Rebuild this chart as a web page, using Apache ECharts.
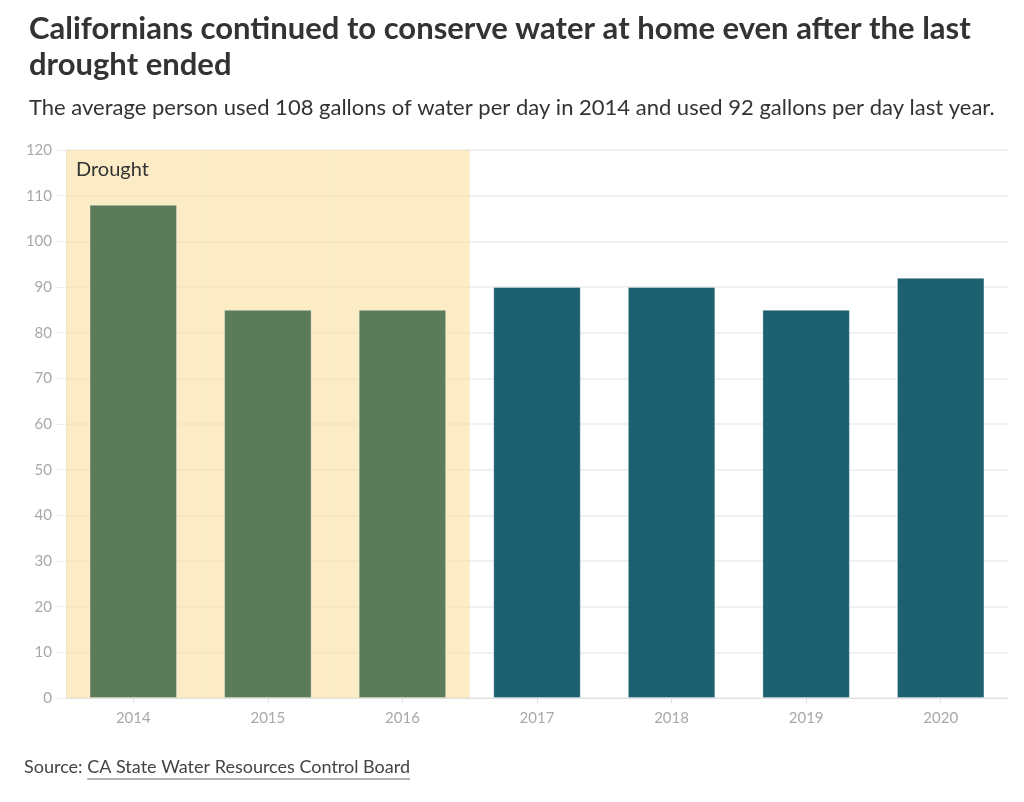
<!DOCTYPE html>
<html><head><meta charset="utf-8">
<script src="https://cdn.jsdelivr.net/npm/echarts@6/dist/echarts.min.js"></script>
<style>html,body{margin:0;padding:0;background:#fff}#c{width:1024px;height:802px}</style>
</head><body><div id="c"></div>
<script>
var years = ['2014','2015','2016','2017','2018','2019','2020'];
var gallons = [108, 85, 85, 90, 90, 85, 92];
var droughtYears = ['2014','2015','2016'];
var yTicks = {min: 0, max: 120, interval: 10};
var titleText = 'Californians continued to conserve water at home even after the last\ndrought ended';
var subtitleText = 'The average person used 108 gallons of water per day in 2014 and used 92 gallons per day last year.';
var sourcePrefix = 'Source: ';
var sourceLink = 'CA State Water Resources Control Board';

var FONT = 'Lato, "Noto Sans", sans-serif';
var chart = echarts.init(document.getElementById('c'));

var barData = gallons.map(function(v, i){
  var d = droughtYears.indexOf(years[i]) >= 0;
  return {value: v, itemStyle: {color: d ? '#5b7b5a' : '#1d6170'}};
});
var bgData = years.map(function(y, i){
  return droughtYears.indexOf(y) >= 0 ? yTicks.max : null;
});

var ctx = document.createElement('canvas').getContext('2d');
ctx.font = '18px ' + FONT;
var prefW = ctx.measureText(sourcePrefix).width;
var linkW = ctx.measureText(sourceLink).width;

chart.setOption({
  animation: false,
  textStyle: {fontFamily: FONT},
  title: [{
    text: titleText, left: 24, top: 6,
    textStyle: {fontSize: 31, fontWeight: 'bold', color: '#333', lineHeight: 36, fontFamily: FONT}
  }, {
    text: subtitleText, left: 24, top: 92,
    textStyle: {fontSize: 22, fontWeight: 'normal', color: '#333', fontFamily: FONT}
  }],
  grid: {left: 66, right: 16, top: 150, bottom: 104, containLabel: false},
  xAxis: [{
    type: 'category', data: years,
    axisLine: {show: true, lineStyle: {color: '#e0e0e0'}},
    axisTick: {show: true, alignWithLabel: true, length: 5, lineStyle: {color: '#e0e0e0'}},
    axisLabel: {color: '#a8a8a8', fontSize: 15, margin: 13}
  }, {
    type: 'category', data: years, show: false
  }],
  yAxis: {
    type: 'value', min: yTicks.min, max: yTicks.max, interval: yTicks.interval,
    axisLine: {show: true, lineStyle: {color: '#ececec'}},
    axisTick: {show: true, length: 9, lineStyle: {color: '#ececec'}},
    axisLabel: {color: '#a8a8a8', fontSize: 15, margin: 14},
    splitLine: {lineStyle: {color: '#ececec', width: 1.5}}
  },
  series: [{
    type: 'bar', xAxisIndex: 1, data: bgData, barWidth: '100%', silent: true, z: 1,
    itemStyle: {color: 'rgba(250,224,160,0.6)'},
    label: {
      show: true, position: 'insideTopLeft', distance: 10,
      formatter: function(p){ return p.dataIndex === 0 ? 'Drought' : ''; },
      color: '#333', fontSize: 20, fontFamily: FONT
    }
  }, {
    type: 'bar', xAxisIndex: 0, data: barData, barWidth: '65%', z: 3,
    itemStyle: {borderColor: 'rgba(255,255,255,0.3)', borderWidth: 1}
  }],
  graphic: [{
    type: 'group', left: 24, top: 758,
    children: [{
      type: 'text', x: 0, y: 0,
      style: {text: sourcePrefix, font: '18px ' + FONT, fill: '#444'}
    }, {
      type: 'text', x: prefW, y: 0,
      style: {text: sourceLink, font: '18px ' + FONT, fill: '#444'}
    }, {
      type: 'line', shape: {x1: prefW, y1: 21, x2: prefW + linkW, y2: 21},
      style: {stroke: '#666', lineWidth: 1}
    }]
  }]
});
</script></body></html>
